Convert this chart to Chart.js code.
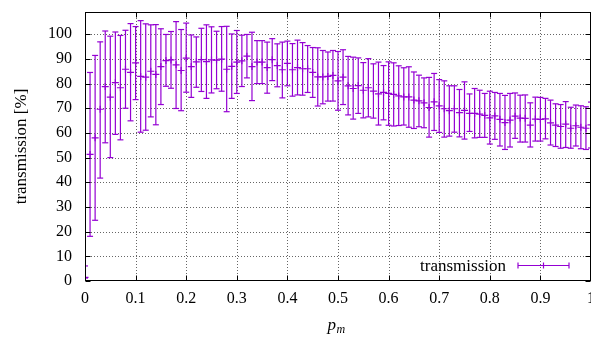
<!DOCTYPE html>
<html><head><meta charset="utf-8">
<script src="https://cdn.jsdelivr.net/npm/chart.js@4.4.0/dist/chart.umd.min.js"></script>
<style>html,body{margin:0;padding:0;background:#fff;overflow:hidden}#wrap{width:591px;height:338px}</style>
</head><body><div id="wrap"><canvas id="c" width="591" height="338"></canvas></div>
<script>
const xValues = [0.00,0.01,0.02,0.03,0.04,0.05,0.06,0.07,0.08,0.09,
  0.10,0.11,0.12,0.13,0.14,0.15,0.16,0.17,0.18,0.19,
  0.20,0.21,0.22,0.23,0.24,0.25,0.26,0.27,0.28,0.29,
  0.30,0.31,0.32,0.33,0.34,0.35,0.36,0.37,0.38,0.39,
  0.40,0.41,0.42,0.43,0.44,0.45,0.46,0.47,0.48,0.49,
  0.50,0.51,0.52,0.53,0.54,0.55,0.56,0.57,0.58,0.59,
  0.60,0.61,0.62,0.63,0.64,0.65,0.66,0.67,0.68,0.69,
  0.70,0.71,0.72,0.73,0.74,0.75,0.76,0.77,0.78,0.79,
  0.80,0.81,0.82,0.83,0.84,0.85,0.86,0.87,0.88,0.89,
  0.90,0.91,0.92,0.93,0.94,0.95,0.96,0.97,0.98,0.99,1.00];
const means = [1.5,51.3,58.0,69.6,78.8,74.5,80.4,78.3,85.8,84.5,
  88.4,82.9,82.6,85.0,83.7,86.9,89.3,89.6,87.6,85.3,
  90.3,86.9,88.8,89.7,88.9,89.6,89.5,89.9,85.8,87.0,
  88.7,89.2,91.1,86.9,88.7,88.7,86.5,89.7,87.3,85.6,
  88.2,85.6,86.5,86.0,86.0,84.5,82.7,82.7,82.9,83.3,
  81.1,82.6,79.1,78.0,79.2,77.3,78.3,76.9,75.8,76.4,
  76.0,75.6,75.0,74.6,74.6,73.3,73.0,72.2,70.3,72.6,
  71.0,69.8,69.0,69.8,68.2,69.1,67.9,67.9,67.6,67.1,
  66.1,66.9,65.5,64.2,65.2,66.8,66.0,65.9,63.2,65.6,
  65.5,65.7,64.1,63.2,62.6,63.6,61.9,62.9,62.3,61.9,63.3];
const lows = [1.2,18.1,24.6,41.7,56.0,50.0,59.4,57.2,70.0,64.9,
  73.5,60.3,61.1,66.5,63.3,71.5,78.9,78.1,69.9,69.0,
  76.5,74.4,78.5,76.8,74.0,76.2,77.9,76.9,68.6,74.0,
  76.0,78.8,82.3,73.1,80.0,80.0,76.1,81.2,78.7,74.2,
  79.1,74.9,75.4,75.3,76.4,74.4,70.9,71.8,72.9,72.9,
  69.2,71.5,67.3,65.6,67.9,66.1,66.5,66.0,63.2,65.3,
  63.1,62.8,63.0,63.2,62.3,61.8,62.5,62.1,58.3,61.0,
  60.2,58.3,58.7,60.3,58.4,57.5,60.6,58.0,58.2,58.2,
  55.5,57.4,54.7,53.3,54.3,57.8,56.3,56.3,54.3,56.7,
  56.7,57.6,55.1,54.5,53.8,54.1,53.8,54.7,53.6,53.3,53.9];
const highs = [6.1,84.5,91.4,96.9,101.3,99.2,100.9,99.5,101.6,104.3,
  103.1,105.5,104.2,103.8,103.9,102.2,99.9,101.1,105.1,101.9,
  104.5,99.7,98.9,102.4,103.8,103.0,101.2,103.1,103.2,100.1,
  101.5,99.6,99.9,100.8,97.4,97.4,96.8,98.2,96.1,96.8,
  97.2,96.2,97.6,96.6,95.4,94.6,94.5,93.4,92.8,93.4,
  93.0,93.7,91.0,90.7,90.4,88.5,90.1,88.0,88.7,87.3,
  88.8,88.4,87.2,86.4,86.8,84.7,83.4,82.3,82.5,84.1,
  81.6,81.1,79.1,79.1,77.6,80.7,75.8,78.0,77.3,76.0,
  76.9,76.4,76.0,75.2,76.0,76.2,75.3,75.4,72.2,74.5,
  74.4,74.0,73.3,71.8,71.5,72.7,70.4,71.3,71.0,70.6,72.5];
const xTickValues = [0,0.1,0.2,0.3,0.4,0.5,0.6,0.7,0.8,0.9,1];
const xTickLabels = ['0','0.1','0.2','0.3','0.4','0.5','0.6','0.7','0.8','0.9','1'];
const yTickValues = [0,10,20,30,40,50,60,70,80,90,100];
const yTickLabels = ['0','10','20','30','40','50','60','70','80','90','100'];
const seriesName = 'transmission';
const yTitle = 'transmission [%]';
const xTitleMain = 'p';
const xTitleSub = 'm';

const COLOR = '#9400d3';
const FONT = '"Liberation Serif","Times New Roman",serif';

function seg(ctx, x1, y1, x2, y2) { ctx.beginPath(); ctx.moveTo(x1, y1); ctx.lineTo(x2, y2); ctx.stroke(); }

const gnuplotLook = {
  id: 'gnuplotLook',
  beforeDatasetsDraw(chart) {
    const { ctx, chartArea: a, scales: { x, y } } = chart;
    ctx.save();
    ctx.strokeStyle = 'rgba(0,0,0,0.6)';
    ctx.lineWidth = 1;
    ctx.setLineDash([1, 2]);
    xTickValues.forEach(v => {
      const px = Math.round(x.getPixelForValue(v)) + 0.5;
      if (px <= a.left + 1 || px >= a.right - 1) return;
      seg(ctx, px, a.top, px, a.bottom);
    });
    yTickValues.forEach(v => {
      const py = Math.round(y.getPixelForValue(v)) + 0.5;
      if (py >= a.bottom - 1 || py <= a.top + 1) return;
      seg(ctx, a.left, py, a.right, py);
    });
    ctx.setLineDash([]);
    ctx.beginPath();
    ctx.rect(a.left, a.top, a.right - a.left, a.bottom - a.top);
    ctx.clip();
    ctx.strokeStyle = COLOR;
    ctx.lineWidth = 1.2;
    for (let i = 0; i < xValues.length; i++) {
      const px = x.getPixelForValue(xValues[i]);
      const lo = y.getPixelForValue(lows[i]);
      const hi = y.getPixelForValue(highs[i]);
      seg(ctx, px, lo, px, hi);
      seg(ctx, px - 3, lo, px + 3, lo);
      seg(ctx, px - 3, hi, px + 3, hi);
    }
    ctx.restore();
  },
  afterDraw(chart) {
    const { ctx, chartArea: a, scales: { x, y } } = chart;
    ctx.save();
    ctx.strokeStyle = '#000';
    ctx.lineWidth = 1;
    const L = Math.round(a.left) + 0.5, R = Math.round(a.right) - 0.5;
    const T = Math.round(a.top) + 0.5, B = Math.round(a.bottom) - 0.5;
    ctx.strokeRect(L, T, R - L, B - T);
    const tl = 5;
    xTickValues.forEach(v => {
      const px = Math.round(x.getPixelForValue(v)) + 0.5;
      seg(ctx, px, B, px, B - tl);
      seg(ctx, px, T, px, T + tl);
    });
    yTickValues.forEach(v => {
      const py = Math.round(y.getPixelForValue(v)) + 0.5;
      seg(ctx, L, py, L + tl, py);
      seg(ctx, R, py, R - tl, py);
    });
    // legend
    ctx.fillStyle = '#000';
    ctx.font = '17px ' + FONT;
    ctx.textAlign = 'right';
    ctx.textBaseline = 'middle';
    const ly = 265.5;
    ctx.fillText(seriesName, 506, ly + 1);
    ctx.strokeStyle = COLOR;
    ctx.lineWidth = 1.2;
    seg(ctx, 518, ly, 569, ly);
    seg(ctx, 518, ly - 3, 518, ly + 3);
    seg(ctx, 569, ly - 3, 569, ly + 3);
    seg(ctx, 543.5, ly - 3, 543.5, ly + 3);
    // x title
    ctx.fillStyle = '#000';
    ctx.textAlign = 'left';
    ctx.textBaseline = 'alphabetic';
    ctx.font = 'italic 17px ' + FONT;
    const cx = (a.left + a.right) / 2;
    const pw = ctx.measureText(xTitleMain).width;
    ctx.font = 'italic 12px ' + FONT;
    const mw = ctx.measureText(xTitleSub).width;
    const sx = cx - (pw + mw) / 2 - 2;
    ctx.font = 'italic 17px ' + FONT;
    ctx.fillText(xTitleMain, sx, 330);
    ctx.font = 'italic 12px ' + FONT;
    ctx.fillText(xTitleSub, sx + pw + 0.5, 333);
    ctx.restore();
  }
};

new Chart(document.getElementById('c'), {
  type: 'scatter',
  data: {
    datasets: [{
      label: seriesName,
      data: xValues.map((v, i) => ({ x: v, y: means[i] })),
      pointStyle: 'cross',
      pointRadius: 3.5,
      pointBorderColor: COLOR,
      pointBackgroundColor: COLOR,
      pointBorderWidth: 1.2,
      showLine: false
    }]
  },
  options: {
    responsive: false,
    animation: false,
    devicePixelRatio: 1,
    layout: { autoPadding: false, padding: { top: 12, left: 0, right: 0, bottom: 0 } },
    plugins: { legend: { display: false }, tooltip: { enabled: false } },
    scales: {
      x: {
        type: 'linear', min: 0, max: 1,
        afterBuildTicks(s) { s.ticks = xTickValues.map(v => ({ value: v })); },
        ticks: { callback: (v, i) => xTickLabels[i], font: { family: FONT, size: 16 }, color: '#000', padding: 8, maxRotation: 0, autoSkip: false },
        grid: { display: false, drawTicks: false },
        border: { display: false },
        afterFit(s) { s.height = 57; s.paddingLeft = 0; s.paddingRight = 0; }
      },
      y: {
        type: 'linear', min: 0, max: 109,
        afterBuildTicks(s) { s.ticks = yTickValues.map(v => ({ value: v })); },
        ticks: { callback: (v, i) => yTickLabels[i], font: { family: FONT, size: 16 }, color: '#000', padding: 13, autoSkip: false },
        grid: { display: false, drawTicks: false },
        border: { display: false },
        title: { display: true, text: yTitle, font: { family: FONT, size: 17 }, color: '#000', padding: { top: 11, bottom: 0 } },
        afterFit(s) { s.width = 85; s.paddingTop = 0; s.paddingBottom = 0; }
      }
    }
  },
  plugins: [gnuplotLook]
});
</script>
</body></html>
